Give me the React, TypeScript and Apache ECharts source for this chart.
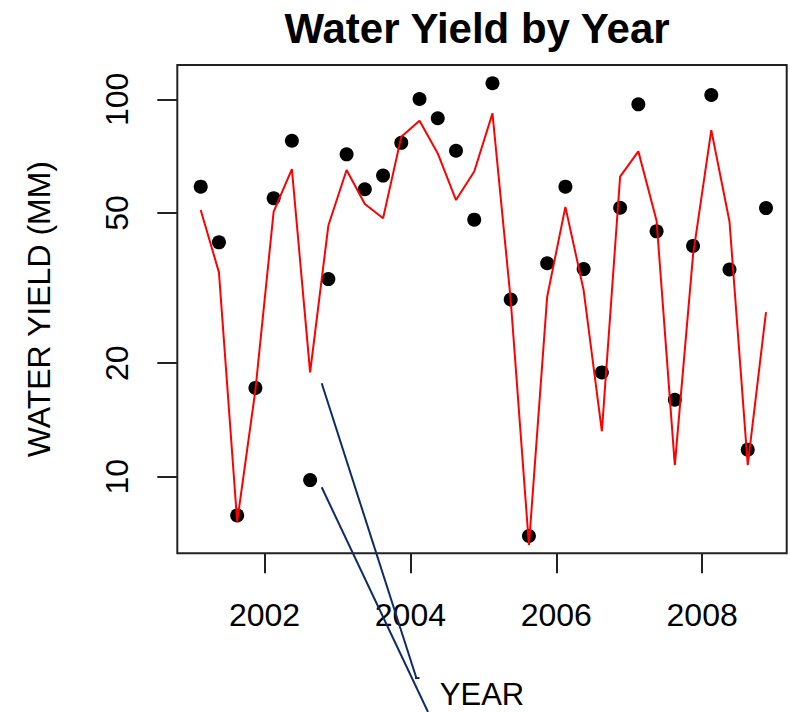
import React, { useEffect, useRef } from "react";
import * as echarts from "echarts";

// Decimal year of each quarterly observation
const dates = [
  2001.125, 2001.375, 2001.625, 2001.875,
  2002.125, 2002.375, 2002.625, 2002.875,
  2003.125, 2003.375, 2003.625, 2003.875,
  2004.125, 2004.375, 2004.625, 2004.875,
  2005.125, 2005.375, 2005.625, 2005.875,
  2006.125, 2006.375, 2006.625, 2006.875,
  2007.125, 2007.375, 2007.625, 2007.875,
  2008.125, 2008.375, 2008.625, 2008.875,
];

// Observed water yield (mm) — black dots
const observed = [
  58.7, 41.8, 7.9, 17.2,
  54.7, 77.7, 9.8, 33.4,
  71.5, 57.8, 62.8, 76.7,
  100.2, 89.1, 73.1, 48.0,
  110.3, 29.5, 6.97, 36.8,
  58.7, 35.5, 18.9, 51.6,
  97.0, 44.7, 16.0, 40.9,
  102.7, 35.4, 11.8, 51.5,
];

// Fitted water yield (mm) — red line
const fitted = [
  50.9, 34.8, 7.6, 17.0,
  50.4, 65.3, 18.9, 46.3,
  65.0, 52.8, 48.4, 79.6,
  87.8, 71.9, 54.1, 64.4,
  91.8, 29.4, 6.59, 30.0,
  51.9, 31.2, 13.2, 62.4,
  72.8, 47.7, 10.74, 38.7,
  82.9, 47.4, 10.74, 27.3,
];

const xTicks = [2002, 2004, 2006, 2008];
const yTicks = [10, 20, 50, 100];

const FONT = "'Liberation Sans', Arial, sans-serif";

export default function App() {
  const ref = useRef<HTMLDivElement>(null);

  useEffect(() => {
    if (!ref.current) return;
    const chart = echarts.init(ref.current, null, { renderer: "svg" });
    const navy = "#0d2a6a";
    chart.setOption({
      animation: false,
      backgroundColor: "#ffffff",
      title: {
        text: "Water Yield by Year",
        left: 472,
        top: 2,
        textAlign: "center",
        textStyle: {
          fontFamily: FONT,
          fontSize: 42,
          fontWeight: "bold",
          color: "#000",
        },
      },
      grid: {
        left: 177.3,
        top: 65,
        width: 609.4,
        height: 488.3,
        show: true,
        borderColor: "#222",
        borderWidth: 2,
        backgroundColor: "transparent",
        containLabel: false,
        outerBoundsMode: "none",
      },
      xAxis: {
        type: "value",
        min: 2000.804,
        max: 2009.159,
        name: "YEAR",
        nameLocation: "middle",
        nameGap: 126,
        nameTextStyle: { fontFamily: FONT, fontSize: 31, color: "#000" },
        axisLine: { show: false },
        splitLine: { show: false },
        axisTick: {
          show: true,
          length: 20,
          customValues: xTicks,
          lineStyle: { color: "#222", width: 2 },
        },
        axisLabel: {
          customValues: xTicks,
          margin: 46,
          fontFamily: FONT,
          fontSize: 32,
          color: "#000",
          formatter: (v: number) => String(v),
        },
      },
      yAxis: {
        type: "log",
        logBase: 10,
        min: 6.27,
        max: 123.3,
        name: "WATER YIELD (MM)",
        nameLocation: "middle",
        nameRotate: 90,
        nameGap: 122,
        nameTextStyle: { fontFamily: FONT, fontSize: 32, color: "#000" },
        axisLine: { show: false },
        splitLine: { show: false },
        minorTick: { show: false },
        axisTick: {
          show: true,
          length: 20,
          customValues: yTicks,
          lineStyle: { color: "#222", width: 2 },
        },
        axisLabel: {
          customValues: yTicks,
          rotate: 90,
          margin: 44,
          fontFamily: FONT,
          fontSize: 32,
          color: "#000",
          formatter: (v: number) => String(Math.round(v)),
        },
      },
      series: [
        {
          type: "scatter",
          name: "Observed",
          data: dates.map((d, i) => [d, observed[i]]),
          symbol: "circle",
          symbolSize: 14,
          itemStyle: { color: "#000", opacity: 1 },
          z: 2,
        },
        {
          type: "line",
          name: "Fitted",
          data: dates.map((d, i) => [d, fitted[i]]),
          showSymbol: false,
          symbol: "none",
          lineStyle: { color: "#ff0000", width: 2 },
          z: 3,
        },
      ],
      graphic: [
        {
          type: "line",
          shape: { x1: 321.7, y1: 383.3, x2: 416.7, y2: 679 },
          style: { stroke: navy, lineWidth: 2 },
          z: 10,
        },
        {
          type: "line",
          shape: { x1: 415, y1: 678, x2: 419.5, y2: 678 },
          style: { stroke: navy, lineWidth: 2 },
          z: 10,
        },
        {
          type: "line",
          shape: { x1: 321.7, y1: 487.3, x2: 428, y2: 712 },
          style: { stroke: navy, lineWidth: 2 },
          z: 10,
        },
      ],
    });
    return () => chart.dispose();
  }, []);

  return (
    <div
      ref={ref}
      style={{ position: "fixed", left: 0, top: 0, width: 790, height: 712 }}
    />
  );
}
